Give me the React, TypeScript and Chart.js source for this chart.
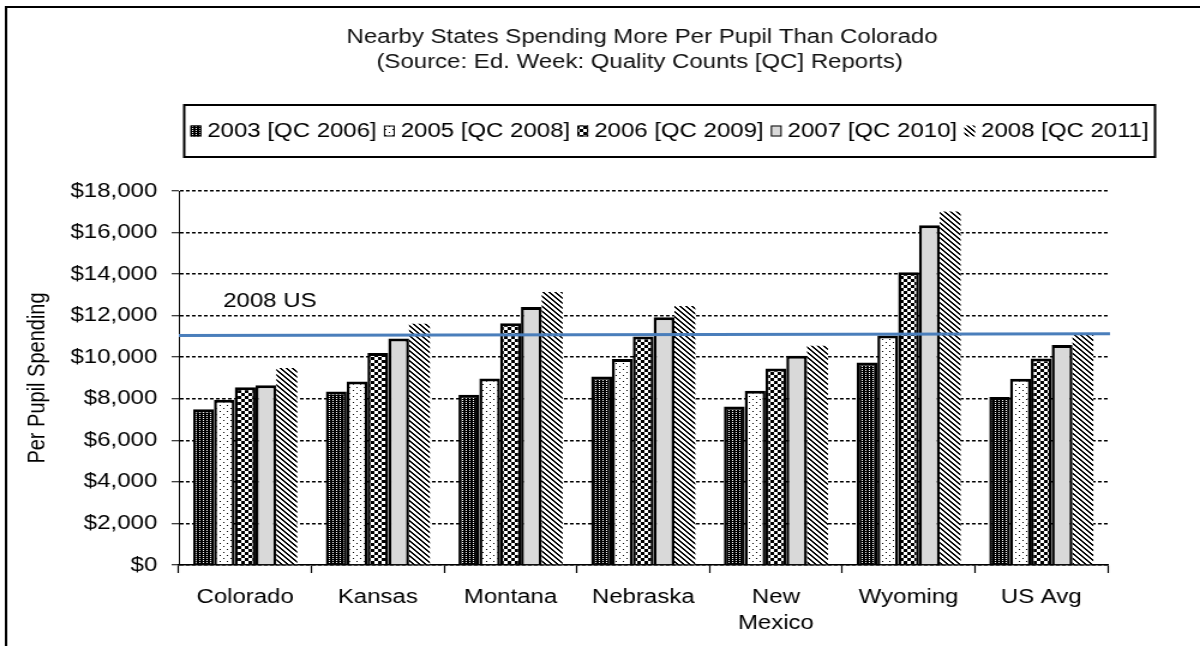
import React, { useEffect, useRef } from "react";
import { Chart, registerables } from "chart.js";

Chart.register(...registerables);

const categories: (string | string[])[] = ["Colorado", "Kansas", "Montana", "Nebraska", ["New", "Mexico"], "Wyoming", "US Avg"];
const seriesLabels = ["2003 [QC 2006]", "2005 [QC 2008]", "2006 [QC 2009]", "2007 [QC 2010]", "2008 [QC 2011]"];
const values2003 = [7500, 8350, 8190, 9070, 7630, 9750, 8080];
const values2005 = [7950, 8830, 8980, 9910, 8390, 11050, 8960];
const values2006 = [8550, 10200, 11630, 11000, 9460, 14090, 9940];
const values2007 = [8650, 10900, 12420, 11920, 10070, 16350, 10590];
const values2008 = [9480, 11610, 13140, 12470, 10550, 17010, 11080];
const usLineValues = [11040, 11130];
const usLineLabel = "2008 US";
const usLabelValue = 12700;
const yMin = 0;
const yMax = 18000;
const yStep = 2000;
const titleLines = ["Nearby States Spending More Per Pupil Than Colorado", "(Source: Ed. Week: Quality Counts [QC] Reports)"];
const yAxisTitle = "Per Pupil Spending";

const FAMILY = "'Liberation Sans', Arial, sans-serif";
const FONT = `20px ${FAMILY}`;

function makeFill(ctx: CanvasRenderingContext2D, kind: string): CanvasPattern | string {
  if (kind === "gray") return "#d9d9d9";
  const t = document.createElement("canvas");
  let w = 6, h = 6;
  let isBlack: (x: number, y: number) => boolean = () => false;
  if (kind === "dark") {
    w = 3; h = 2;
    isBlack = (x, y) => !(x === 1 && y === 0);
  } else if (kind === "dots") {
    w = 6; h = 6;
    isBlack = (x, y) => (x === 0 && y === 0) || (x === 3 && y === 3);
  } else if (kind === "check") {
    w = 6; h = 6;
    isBlack = (x, y) => (Math.floor(x / 3) + Math.floor(y / 3)) % 2 === 0;
  } else if (kind === "diag") {
    w = 5; h = 5;
    isBlack = (x, y) => {
      const d = (((x - y) % 5) + 5) % 5;
      return d === 0 || d === 1;
    };
  }
  t.width = w; t.height = h;
  const c = t.getContext("2d")!;
  c.fillStyle = "#fff";
  c.fillRect(0, 0, w, h);
  c.fillStyle = "#000";
  for (let x = 0; x < w; x++) for (let y = 0; y < h; y++) if (isBlack(x, y)) c.fillRect(x, y, 1, 1);
  return ctx.createPattern(t, "repeat")!;
}

export default function App() {
  const ref = useRef<HTMLCanvasElement>(null);
  useEffect(() => {
    const canvas = ref.current!;
    const ctx = canvas.getContext("2d")!;
    const kinds = ["dark", "dots", "check", "gray", "diag"];
    const fills = kinds.map((k) => makeFill(ctx, k));
    const seriesValues = [values2003, values2005, values2006, values2007, values2008];

    const decor = {
      id: "decor",
      beforeDraw(chart: any) {
        const c = chart.ctx;
        c.save();
        c.fillStyle = "#fff";
        c.fillRect(0, 0, chart.width, chart.height);
        c.restore();
      },
      afterDatasetsDraw(chart: any) {
        const c = chart.ctx;
        const area = chart.chartArea;
        const ys = chart.scales.y;
        c.save();
        c.strokeStyle = "#4a7ebb";
        c.lineWidth = 3;
        c.beginPath();
        c.moveTo(area.left, ys.getPixelForValue(usLineValues[0]));
        c.lineTo(area.right + 2, ys.getPixelForValue(usLineValues[1]));
        c.stroke();
        c.font = FONT;
        c.fillStyle = "#000";
        c.textBaseline = "middle";
        c.textAlign = "left";
        c.fillText(usLineLabel, area.left + 37, ys.getPixelForValue(usLabelValue));
        c.restore();
      },
      afterDraw(chart: any) {
        const c = chart.ctx;
        c.save();
        // outer frame
        c.strokeStyle = "#000";
        c.lineWidth = 2;
        c.beginPath();
        c.moveTo(5, chart.height);
        c.lineTo(5, 7);
        c.lineTo(chart.width, 7);
        c.stroke();
        // title
        c.font = FONT;
        c.fillStyle = "#111";
        c.textAlign = "center";
        c.textBaseline = "middle";
        c.fillText(titleLines[0], 535, 37);
        c.fillText(titleLines[1], 533, 62);
        // legend
        const bx = 153.5, by = 105, bw = 809, bh = 52;
        c.lineWidth = 2;
        c.strokeRect(bx, by, bw, bh);
        const sw = 9, sh = 11, g1 = 5, g2 = 6;
        const widths = seriesLabels.map((s) => c.measureText(s).width);
        const total = widths.reduce((a, b) => a + b, 0) + seriesLabels.length * (sw + g1) + (seriesLabels.length - 1) * g2;
        let x = bx + bw / 2 - total / 2;
        const cy = by + bh / 2;
        c.textAlign = "left";
        seriesLabels.forEach((s, i) => {
          c.fillStyle = fills[i] as any;
          c.fillRect(x, cy - sh / 2, sw, sh);
          if (i < 4) {
            c.lineWidth = 1;
            c.strokeStyle = "#000";
            c.strokeRect(x + 0.5, cy - sh / 2 + 0.5, sw - 1, sh - 1);
          }
          c.fillStyle = "#000";
          c.fillText(s, x + sw + g1, cy);
          x += sw + g1 + widths[i] + g2;
        });
        c.restore();
      },
    };

    const chart = new Chart(ctx, {
      type: "bar",
      data: {
        labels: categories as any,
        datasets: seriesLabels.map((label, i) => ({
          label,
          data: seriesValues[i],
          backgroundColor: fills[i] as any,
          borderColor: "#000",
          borderWidth: i < 4 ? { top: 3, left: 2.5, right: 2.5, bottom: 0 } : 0,
          categoryPercentage: 0.784,
          barPercentage: 1,
        })),
      },
      options: {
        animation: false,
        responsive: false,
        devicePixelRatio: 1,
        layout: { padding: { top: 191, right: 77, left: 0, bottom: 0 } },
        plugins: {
          legend: { display: false },
          title: { display: false },
          tooltip: { enabled: false },
        },
        scales: {
          x: {
            afterFit(scale: any) { scale.height = 81; },
            grid: { drawOnChartArea: false, drawTicks: true, tickLength: 8, tickColor: "#000", tickWidth: 1.2, offset: true },
            border: { display: true, color: "#000", width: 1.5 },
            ticks: { color: "#000", font: { family: FAMILY, size: 20, lineHeight: 1.3 }, padding: 11, maxRotation: 0, autoSkip: false },
          },
          y: {
            min: yMin,
            max: yMax,
            afterFit(scale: any) { scale.width = 149; },
            grid: { color: "#000", lineWidth: 1.5, tickLength: 6, tickColor: "#000", tickWidth: 1, tickBorderDash: [] },
            border: { display: true, color: "#000", width: 1, dash: [3, 2] },
            ticks: {
              stepSize: yStep,
              color: "#000",
              padding: 12,
              font: { family: FAMILY, size: 20 },
              callback: (v: any) => "$" + Number(v).toLocaleString("en-US"),
            },
            title: { display: true, text: yAxisTitle, color: "#000", font: { family: FAMILY, size: 20 }, padding: { top: 19, bottom: 0 } },
          },
        },
      },
      plugins: [decor],
    });
    return () => chart.destroy();
  }, []);
  return (
    <div style={{ position: "fixed", left: 0, top: 0, width: 1200, height: 646, background: "#fff", overflow: "hidden" }}>
      <canvas ref={ref} width={1000} height={646} style={{ width: "1200px", height: "646px", display: "block" }} />
    </div>
  );
}
